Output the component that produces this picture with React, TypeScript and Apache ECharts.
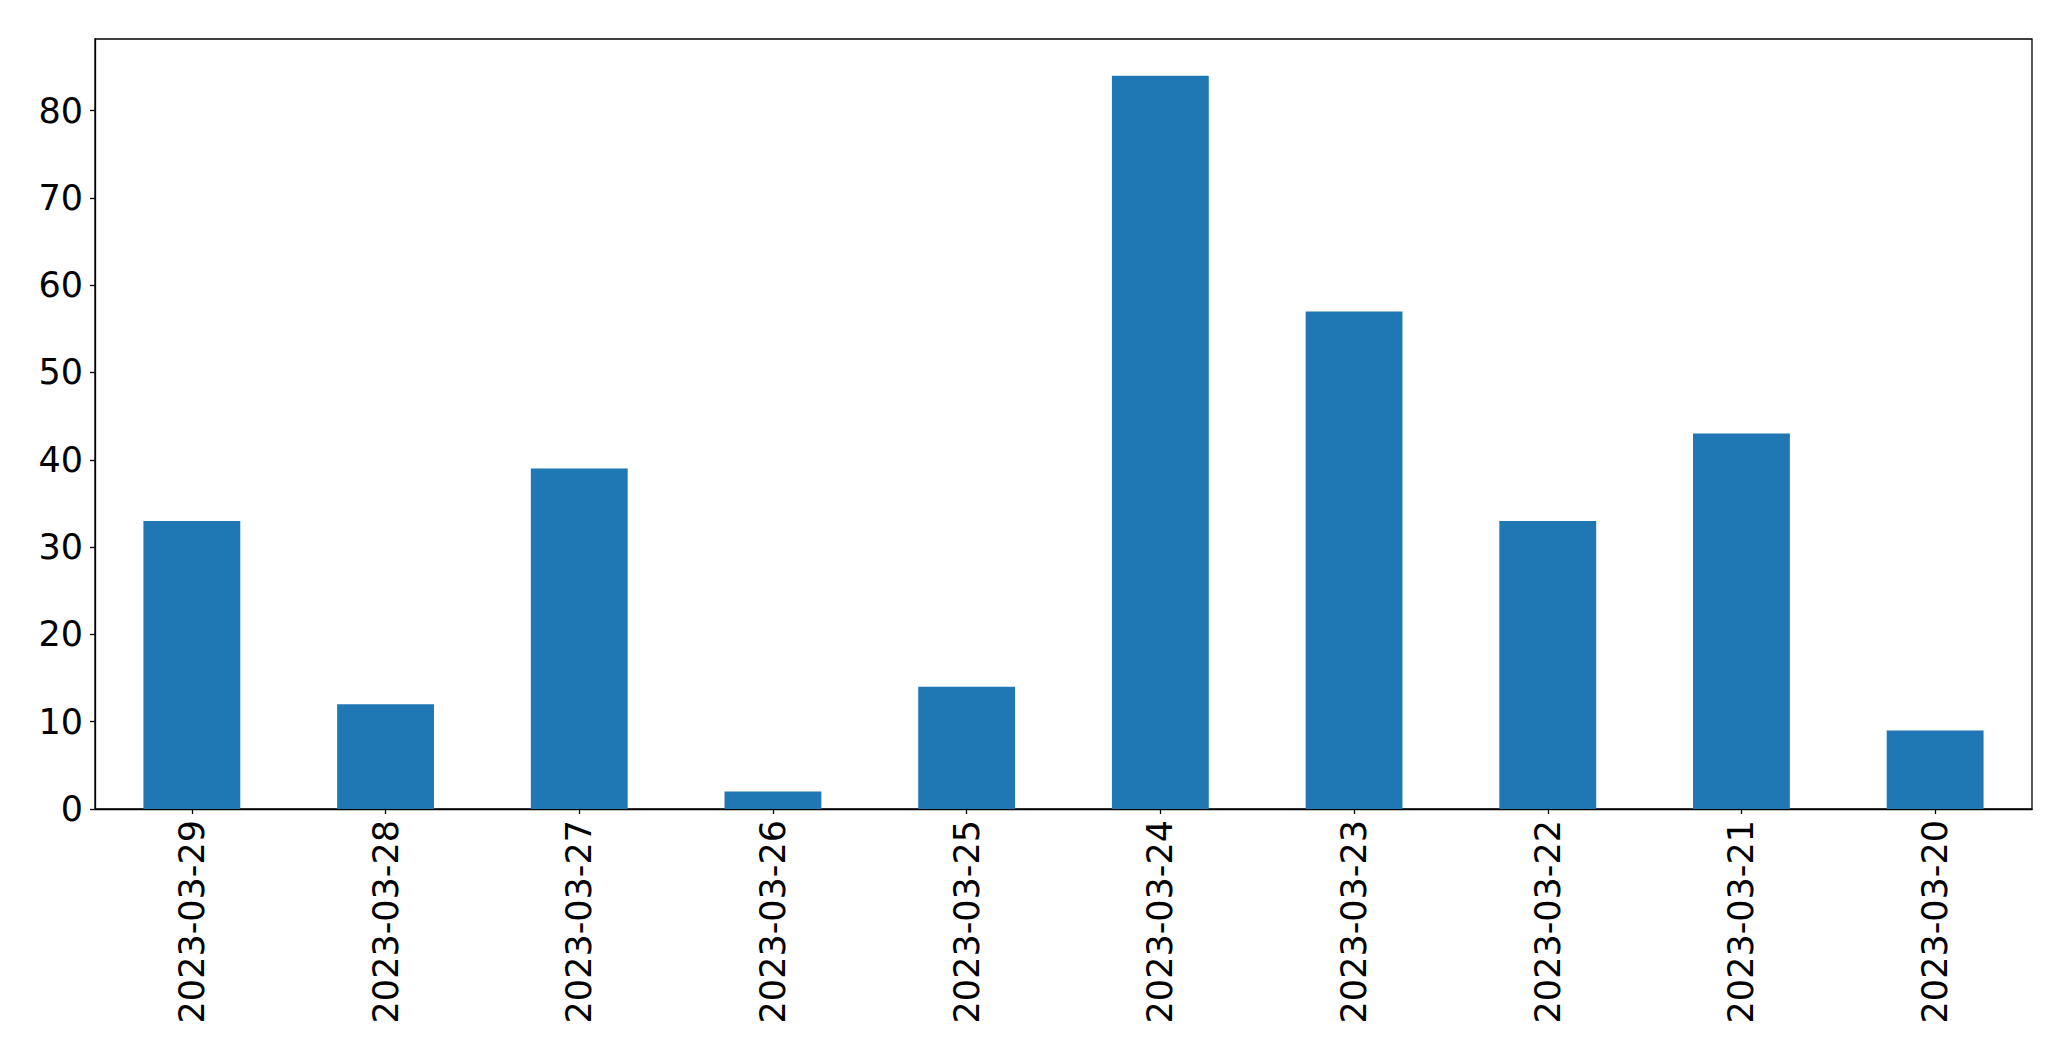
import React, { useEffect, useRef } from "react";
import * as echarts from "echarts";

const categories = [
  "2023-03-29",
  "2023-03-28",
  "2023-03-27",
  "2023-03-26",
  "2023-03-25",
  "2023-03-24",
  "2023-03-23",
  "2023-03-22",
  "2023-03-21",
  "2023-03-20",
];
const values = [33, 12, 39, 2, 14, 84, 57, 33, 43, 9];
const yTicks = [0, 10, 20, 30, 40, 50, 60, 70, 80];
const yMax = 88.2;

export default function App() {
  const ref = useRef<HTMLDivElement>(null);
  useEffect(() => {
    if (!ref.current) return;
    const chart = echarts.init(ref.current, null, { renderer: "svg" });
    const font = "DejaVu Sans";
    chart.setOption({
      animation: false,
      backgroundColor: "#ffffff",
      grid: {
        left: 95,
        top: 39,
        right: 39,
        bottom: 252,
        show: true,
        borderColor: "#000000",
        borderWidth: 1.3,
        backgroundColor: "transparent",
      },
      xAxis: {
        type: "category",
        data: categories,
        boundaryGap: true,
        axisLine: { show: true, lineStyle: { color: "#000000", width: 1.3 } },
        axisTick: {
          show: true,
          alignWithLabel: true,
          length: 5,
          lineStyle: { color: "#000000", width: 1.3 },
        },
        axisLabel: {
          rotate: 90,
          margin: 11,
          fontSize: 35,
          fontFamily: font,
          color: "#000000",
          interval: 0,
        },
        splitLine: { show: false },
      },
      yAxis: {
        type: "value",
        min: 0,
        max: yMax,
        interval: 10,
        axisLine: { show: true, lineStyle: { color: "#000000", width: 1.3 } },
        axisTick: {
          show: true,
          length: 5,
          lineStyle: { color: "#000000", width: 1.3 },
          customValues: yTicks,
        },
        axisLabel: {
          margin: 12,
          fontSize: 35,
          fontFamily: font,
          color: "#000000",
          customValues: yTicks,
        },
        splitLine: { show: false },
      },
      series: [
        {
          type: "bar",
          data: values,
          barWidth: "50%",
          itemStyle: { color: "#1f77b4" },
        },
      ],
    });
    return () => chart.dispose();
  }, []);
  return (
    <div
      ref={ref}
      style={{ position: "absolute", left: 0, top: 0, width: 2071, height: 1061 }}
    />
  );
}
